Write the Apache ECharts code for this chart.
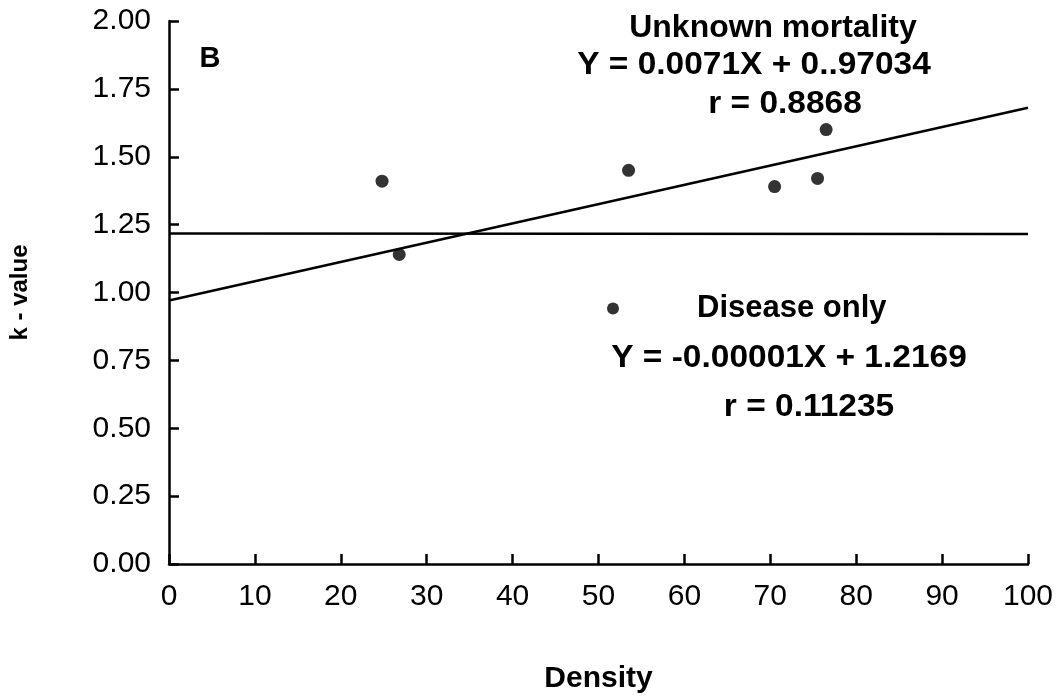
<!DOCTYPE html>
<html>
<head>
<meta charset="utf-8">
<script src="https://cdn.jsdelivr.net/npm/echarts@6/dist/echarts.min.js"></script>
<style>
  html, body { margin: 0; padding: 0; background: #fff; }
  #chart { width: 1063px; height: 699px; }
</style>
</head>
<body>
<div id="chart"></div>
<script>
// Observed k-values against density (disease-only mortality)
const densities = [24.8, 26.8, 53.5, 70.5, 75.5, 76.5];
const kValues = [1.41, 1.14, 1.45, 1.39, 1.42, 1.60];

// Regression fits printed on the panel
const unknownSlope = 0.0071;
const unknownIntercept = 0.97034;
const diseaseSlope = -0.00001;
const diseaseIntercept = 1.2169;
const fitRange = [0, 100];

// Axis settings
const xTicks = [0, 10, 20, 30, 40, 50, 60, 70, 80, 90, 100];
const yTicks = ['0.00', '0.25', '0.50', '0.75', '1.00', '1.25', '1.50', '1.75', '2.00'];

const FONT = '"Liberation Sans", Arial, Helvetica, sans-serif';

const points = densities.map((d, i) => [d, kValues[i]]);
const unknownLine = fitRange.map(x => [x, unknownSlope * x + unknownIntercept]);
const diseaseLine = fitRange.map(x => [x, diseaseSlope * x + diseaseIntercept]);

const chart = echarts.init(document.getElementById('chart'), null, { renderer: 'canvas' });

const axisLine = { show: true, lineStyle: { color: '#000', width: 2.5 } };
const axisTick = { show: true, inside: true, length: 10, lineStyle: { color: '#000', width: 2.5 } };

// Bold annotation centred on (x, y); stretch widens the set type slightly
const boldText = (text, x, y, size, stretch) => ({
  type: 'text',
  x: x, y: y,
  scaleX: stretch || 1,
  style: {
    text: text, x: 0, y: 0,
    align: 'center', verticalAlign: 'middle',
    font: 'bold ' + (size || 31) + 'px ' + FONT,
    fill: '#000'
  }
});

chart.setOption({
  animation: false,
  backgroundColor: '#fff',
  grid: { left: 155, right: 35, top: 21, bottom: 118, containLabel: false },
  xAxis: {
    type: 'value',
    min: xTicks[0], max: xTicks[xTicks.length - 1], interval: 10,
    axisLine: axisLine,
    axisTick: axisTick,
    splitLine: { show: false },
    axisLabel: {
      margin: 18, color: '#000', fontSize: 30, fontFamily: FONT,
      formatter: v => String(v)
    },
    name: 'Density',
    nameLocation: 'middle',
    nameGap: 100,
    nameTextStyle: { color: '#000', fontSize: 30, fontWeight: 'bold', fontFamily: FONT }
  },
  yAxis: {
    type: 'value',
    min: 0, max: 2, interval: 0.25,
    axisLine: axisLine,
    axisTick: axisTick,
    splitLine: { show: false },
    axisLabel: {
      margin: 18, color: '#000', fontSize: 30, fontFamily: FONT,
      formatter: v => yTicks[Math.round(v / 0.25)]
    },
    name: 'k - value',
    nameLocation: 'middle',
    nameRotate: 90,
    nameGap: 137,
    nameTextStyle: { color: '#000', fontSize: 24, fontWeight: 'bold', fontFamily: FONT }
  },
  legend: {
    left: 607, top: 293,
    padding: 0,
    data: [{ name: 'Disease only', icon: 'circle' }],
    itemWidth: 12, itemHeight: 12,
    selectedMode: false,
    textStyle: {
      color: '#000', fontSize: 31, fontWeight: 'bold', fontFamily: FONT,
      padding: [0, 0, 0, 73]
    }
  },
  series: [
    {
      name: 'Unknown mortality',
      type: 'line',
      data: unknownLine,
      showSymbol: false,
      lineStyle: { color: '#000', width: 2.5 },
      silent: true, z: 2
    },
    {
      name: 'Disease only fit',
      type: 'line',
      data: diseaseLine,
      showSymbol: false,
      lineStyle: { color: '#000', width: 2.5 },
      silent: true, z: 2
    },
    {
      name: 'Disease only',
      type: 'scatter',
      data: points,
      symbol: 'circle',
      symbolSize: 13,
      itemStyle: { color: '#000' },
      z: 3
    }
  ],
  graphic: [
    boldText('B', 210, 59, 29),
    boldText('Unknown mortality', 773, 28, 31, 1.03),
    boldText('Y = 0.0071X + 0..97034', 754, 65, 31, 1.08),
    boldText('r = 0.8868', 785, 104, 31, 1.08),
    boldText('Y = -0.00001X + 1.2169', 789, 358, 31, 1.08),
    boldText('r = 0.11235', 809, 407, 31, 1.08)
  ]
});
</script>
</body>
</html>
